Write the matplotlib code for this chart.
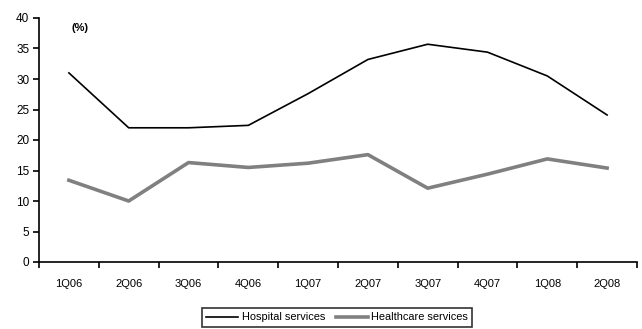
import matplotlib
matplotlib.use("Agg")
import matplotlib.pyplot as plt

plt.rcParams['font.family'] = ['Liberation Sans', 'DejaVu Sans']

quarters = ["1Q06", "2Q06", "3Q06", "4Q06", "1Q07", "2Q07", "3Q07", "4Q07", "1Q08", "2Q08"]
hospital = [31.0, 22.0, 22.0, 22.4, 27.6, 33.2, 35.7, 34.4, 30.5, 24.1]
healthcare = [13.4, 10.0, 16.3, 15.5, 16.2, 17.6, 12.1, 14.4, 16.9, 15.4]
yticks = [0, 5, 10, 15, 20, 25, 30, 35, 40]

W, H = 642, 329
fig = plt.figure(figsize=(W / 100, H / 100), dpi=100)
ax = fig.add_axes([39 / W, 1 - 262 / H, (637 - 39) / W, (262 - 18) / H])

x = list(range(len(quarters)))
ax.plot(x, hospital, color="black", lw=1.2, label="Hospital services")
ax.plot(x, healthcare, color="#808080", lw=2.6, label="Healthcare services")

ax.set_xlim(-0.5, len(quarters) - 0.5)
ax.set_ylim(0, 40)
ax.set_yticks(yticks)
ax.set_xticks(x)
ax.set_xticklabels(quarters)
ax.set_xticks([i - 0.5 for i in range(len(quarters) + 1)], minor=True)
ax.tick_params(axis="x", which="major", length=0, pad=12, labelsize=8)
ax.tick_params(axis="x", which="minor", length=4, width=1.2, direction="out")
ax.tick_params(axis="y", length=4, width=1.2, direction="out", labelsize=8.5, pad=3)

for s in ("top", "right"):
    ax.spines[s].set_visible(False)
for s in ("left", "bottom"):
    ax.spines[s].set_linewidth(1.2)

ax.text(80 / W, 1 - 28 / H, "(%)", transform=fig.transFigure, ha="center", va="center",
        fontsize=8, fontweight="bold")

leg = fig.legend(loc="upper left", bbox_to_anchor=(202 / W, 1 - 308 / H), ncol=2,
                 frameon=True, fancybox=False, fontsize=7.9, handlelength=2.9,
                 handletextpad=0.3, columnspacing=1.0, borderpad=0.4,
                 borderaxespad=0)
leg.get_frame().set_edgecolor("black")
leg.get_frame().set_linewidth(1.2)

fig.savefig("out.png", dpi=100)
